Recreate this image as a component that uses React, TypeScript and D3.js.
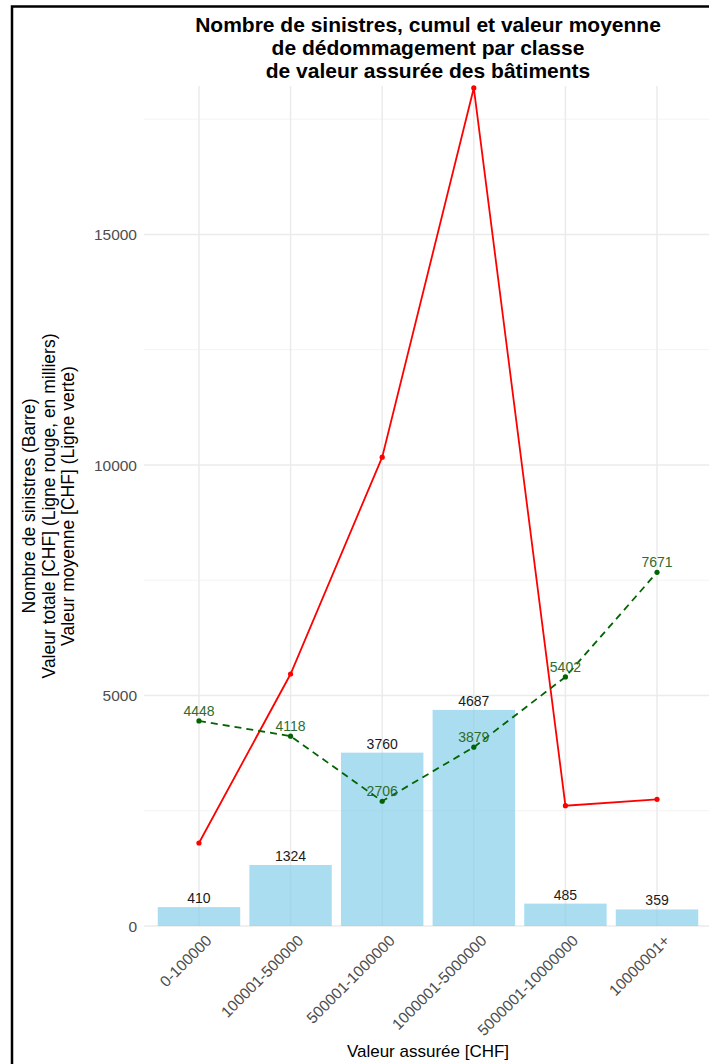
import React from "react";
import * as d3 from "d3";

const categories = ["0-100000", "100001-500000", "500001-1000000", "1000001-5000000", "5000001-10000000", "10000001+"];
const sinistres = [410, 1324, 3760, 4687, 485, 359];
const valeurTotale = [1800, 5466, 10170, 18178, 2610, 2748];
const valeurMoyenne = [4448, 4118, 2706, 3879, 5402, 7671];
const yTicks = [0, 5000, 10000, 15000];
const yMinorTicks = [2500, 7500, 12500, 17500];
const titleLines = ["Nombre de sinistres, cumul et valeur moyenne", "de dédommagement par classe", "de valeur assurée des bâtiments"];
const yTitleLines = ["Nombre de sinistres (Barre)", "Valeur totale [CHF] (Ligne rouge, en milliers)", "Valeur moyenne [CHF] (Ligne verte)"];
const xTitle = "Valeur assurée [CHF]";

const W = 709, H = 1064;
const panel = { left: 144, right: 712, top: 86, bottom: 926 };
const FONT = "'Liberation Sans', Arial, sans-serif";

export default function App() {
  const x = d3.scaleBand<string>().domain(categories).range([panel.left, panel.right]).paddingInner(0.1).paddingOuter(0.15);
  const y = d3.scaleLinear().domain([0, 18220]).range([panel.bottom, panel.top]);
  const cx = (c: string) => (x(c) as number) + x.bandwidth() / 2;
  const red = categories.map((c, i) => [cx(c), y(valeurTotale[i])] as [number, number]);
  const green = categories.map((c, i) => [cx(c), y(valeurMoyenne[i])] as [number, number]);
  const line = d3.line();
  const midX = (panel.left + panel.right) / 2;
  const midY = (panel.top + panel.bottom) / 2;
  return (
    <svg width={W} height={H} style={{ position: "absolute", left: 0, top: 0, background: "#fff" }} fontFamily={FONT}>
      <rect x={0} y={0} width={W} height={H} fill="#fff" />
      {/* grid */}
      {yMinorTicks.map((t) => (
        <line key={"m" + t} x1={panel.left} x2={panel.right} y1={y(t)} y2={y(t)} stroke="#f3f3f3" strokeWidth={1} />
      ))}
      {yTicks.map((t) => (
        <line key={"g" + t} x1={panel.left} x2={panel.right} y1={y(t)} y2={y(t)} stroke="#ebebeb" strokeWidth={1.5} />
      ))}
      {categories.map((c) => (
        <line key={"v" + c} x1={cx(c)} x2={cx(c)} y1={panel.top} y2={panel.bottom} stroke="#ebebeb" strokeWidth={1.5} />
      ))}
      {/* bars */}
      {categories.map((c, i) => (
        <rect key={"b" + c} x={x(c)} y={y(sinistres[i])} width={x.bandwidth()} height={y(0) - y(sinistres[i])} fill="skyblue" fillOpacity={0.7} />
      ))}
      {categories.map((c, i) => (
        <text key={"bl" + c} x={cx(c)} y={y(sinistres[i]) - 4} textAnchor="middle" fontSize={14} fill="#1a1a1a">{sinistres[i]}</text>
      ))}
      {/* red line */}
      <path d={line(red) || ""} fill="none" stroke="red" strokeWidth={1.8} />
      {red.map((p, i) => <circle key={"r" + i} cx={p[0]} cy={p[1]} r={2.6} fill="red" />)}
      {/* green dashed */}
      <path d={line(green) || ""} fill="none" stroke="#006400" strokeWidth={1.8} strokeDasharray="7,5" />
      {green.map((p, i) => <circle key={"gp" + i} cx={p[0]} cy={p[1]} r={2.6} fill="#006400" />)}
      {green.map((p, i) => (
        <text key={"gl" + i} x={p[0]} y={p[1] - 5} textAnchor="middle" fontSize={14} fill="#2e6b2e">{valeurMoyenne[i]}</text>
      ))}
      {/* y ticks */}
      {yTicks.map((t) => (
        <text key={"yt" + t} x={137} y={y(t)} dy="0.36em" textAnchor="end" fontSize={15.5} fill="#4d4d4d">{t}</text>
      ))}
      {/* x ticks */}
      {categories.map((c) => (
        <text key={"xt" + c} transform={`translate(${cx(c) + 6},${panel.bottom + 8}) rotate(-45)`} textAnchor="end" dy="0.7em" fontSize={15.5} fill="#4d4d4d">{c}</text>
      ))}
      {/* axis titles */}
      <text x={midX} y={1057} textAnchor="middle" fontSize={17} fill="#000">{xTitle}</text>
      <g transform={`translate(0,${midY}) rotate(-90)`}>
        {yTitleLines.map((l, i) => (
          <text key={"yl" + i} x={0} y={29 + i * 19.5} dy="0.36em" textAnchor="middle" fontSize={17.5} fill="#000">{l}</text>
        ))}
      </g>
      {/* title */}
      {titleLines.map((l, i) => (
        <text key={"t" + i} x={midX} y={24 + i * 23} dy="0.36em" textAnchor="middle" fontSize={21} fontWeight="bold" fill="#000">{l}</text>
      ))}
      {/* frame */}
      <rect x={12} y={6.5} width={800} height={1200} fill="none" stroke="#000" strokeWidth={2.5} />
    </svg>
  );
}
